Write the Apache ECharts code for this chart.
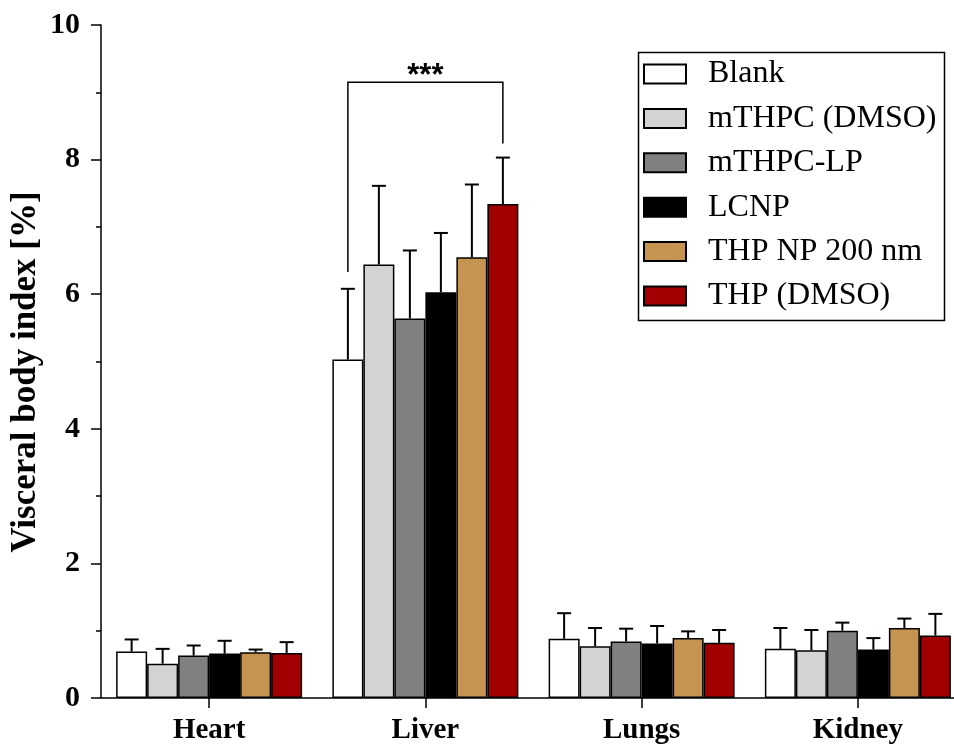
<!DOCTYPE html>
<html>
<head>
<meta charset="utf-8">
<script src="https://cdn.jsdelivr.net/npm/echarts@6/dist/echarts.min.js"></script>
<style>html,body{margin:0;padding:0;background:#fff;overflow:hidden;width:954px;height:745px;}#c{width:966px;height:745px;}</style>
</head>
<body>
<div id="c"></div>
<script>
var categories = ['Heart', 'Liver', 'Lungs', 'Kidney'];
var seriesNames = ['Blank', 'mTHPC (DMSO)', 'mTHPC-LP', 'LCNP', 'THP NP 200 nm', 'THP (DMSO)'];
var seriesColors = ['#ffffff', '#d3d3d3', '#808080', '#000000', '#c49450', '#a00000'];

var blank     = [0.69, 5.03, 0.88, 0.73];
var mthpcDmso = [0.51, 6.44, 0.77, 0.71];
var mthpcLp   = [0.63, 5.64, 0.84, 1.00];
var lcnp      = [0.66, 6.03, 0.81, 0.72];
var thpNp     = [0.68, 6.55, 0.89, 1.04];
var thpDmso   = [0.67, 7.34, 0.82, 0.93];

var blankErr     = [0.18, 1.05, 0.38, 0.31];
var mthpcDmsoErr = [0.22, 1.17, 0.27, 0.30];
var mthpcLpErr   = [0.15, 1.01, 0.19, 0.12];
var lcnpErr      = [0.19, 0.88, 0.26, 0.17];
var thpNpErr     = [0.04, 1.08, 0.10, 0.14];
var thpDmsoErr   = [0.16, 0.69, 0.19, 0.32];

var yTicks = [0, 2, 4, 6, 8, 10];
var yTitle = 'Visceral body index [%]';

// significance bracket: Liver, Blank vs THP (DMSO)
var bracketCategory = 1;
var bracketFrom = 0, bracketTo = 5;
var bracketLeftY = 6.33, bracketTopY = 9.15, bracketRightY = 8.24;
var bracketLabel = '***';

var values = [blank, mthpcDmso, mthpcLp, lcnp, thpNp, thpDmso];
var errors = [blankErr, mthpcDmsoErr, mthpcLpErr, lcnpErr, thpNpErr, thpDmsoErr];

var BAR_W = 31;
var SERIF = "'Liberation Serif','Times New Roman',serif";

var errData = [];
for (var s = 0; s < values.length; s++) {
  for (var c = 0; c < categories.length; c++) {
    errData.push([c, values[s][c] + errors[s][c], s, values[s][c]]);
  }
}

var series = seriesNames.map(function (name, i) {
  return {
    name: name,
    type: 'bar',
    data: values[i],
    barWidth: BAR_W,
    barGap: '0%',
    itemStyle: { color: seriesColors[i], borderColor: '#000', borderWidth: 1.5 },
    emphasis: { disabled: true },
    z: 2
  };
});

series.push({
  type: 'custom',
  name: 'err',
  data: errData,
  encode: { x: 0, y: 1 },
  z: 3,
  silent: true,
  renderItem: function (params, api) {
    var c = api.value(0), top = api.value(1), s = api.value(2), v = api.value(3);
    var p0 = api.coord([c, v]);
    var p1 = api.coord([c, top]);
    var x = p0[0] + (s - (seriesNames.length - 1) / 2) * BAR_W;
    var style = { stroke: '#000', lineWidth: 2, fill: null };
    return {
      type: 'group',
      children: [
        { type: 'line', shape: { x1: x, y1: p0[1], x2: x, y2: p1[1] }, style: style },
        { type: 'line', shape: { x1: x - 7, y1: p1[1], x2: x + 7, y2: p1[1] }, style: style }
      ]
    };
  }
});

series.push({
  type: 'custom',
  name: 'sig',
  data: [[bracketCategory, bracketTopY]],
  encode: { x: 0, y: 1 },
  z: 3,
  silent: true,
  renderItem: function (params, api) {
    var c = api.value(0);
    var mid = (seriesNames.length - 1) / 2;
    var xc = api.coord([c, 0])[0];
    var xl = xc + (bracketFrom - mid) * BAR_W;
    var xr = xc + (bracketTo - mid) * BAR_W;
    var yl = api.coord([c, bracketLeftY])[1];
    var yt = api.coord([c, bracketTopY])[1];
    var yr = api.coord([c, bracketRightY])[1];
    return {
      type: 'group',
      children: [
        { type: 'polyline', shape: { points: [[xl, yl], [xl, yt], [xr, yt], [xr, yr]] },
          style: { stroke: '#000', lineWidth: 1.5, fill: null } },
        { type: 'text', x: (xl + xr) / 2, y: yt - 6,
          style: { text: bracketLabel, font: "bold 31px 'Liberation Sans', Arial, sans-serif",
                   fill: '#000', align: 'center', verticalAlign: 'middle' } }
      ]
    };
  }
});

var chart = echarts.init(document.getElementById('c'));
chart.setOption({
  animation: false,
  backgroundColor: '#fff',
  grid: { left: 101, right: 0, top: 25, bottom: 46, containLabel: false },
  legend: {
    data: seriesNames,
    orient: 'vertical',
    left: 638,
    top: 53,
    icon: 'rect',
    itemWidth: 42,
    itemHeight: 19,
    itemGap: 12.4,
    selectedMode: false,
    textStyle: { fontFamily: SERIF, fontSize: 32, color: '#000', lineHeight: 30, padding: [0, 0, 0, 17] }
  },
  xAxis: {
    type: 'category',
    data: categories,
    axisLine: { lineStyle: { color: '#000', width: 1.5 } },
    axisTick: { show: true, alignWithLabel: true, inside: false, length: 10, lineStyle: { color: '#000', width: 1.5 } },
    axisLabel: { fontFamily: SERIF, fontWeight: 'bold', fontSize: 29, color: '#000', margin: 18 },
    splitLine: { show: false }
  },
  yAxis: {
    type: 'value',
    min: yTicks[0],
    max: yTicks[yTicks.length - 1],
    interval: yTicks[1] - yTicks[0],
    axisLine: { show: true, lineStyle: { color: '#000', width: 1.5 } },
    axisTick: { show: true, inside: false, length: 10, lineStyle: { color: '#000', width: 1.5 } },
    minorTick: { show: true, splitNumber: 2, length: 5, lineStyle: { color: '#000', width: 1.5 } },
    axisLabel: { fontFamily: SERIF, fontWeight: 'bold', fontSize: 30, color: '#000', margin: 21 },
    splitLine: { show: false },
    minorSplitLine: { show: false }
  },
  graphic: [
    { type: 'rect', left: 636, top: 50, shape: { width: 306, height: 268 },
      style: { fill: null, stroke: '#000', lineWidth: 1.5 }, z: 10, silent: true },
    { type: 'text', x: 26, y: 372, rotation: Math.PI / 2,
      style: { text: yTitle, font: "bold 35px 'Liberation Serif','Times New Roman',serif",
               fill: '#000', align: 'center', verticalAlign: 'middle' } }
  ],
  series: series
});
</script>
</body>
</html>
